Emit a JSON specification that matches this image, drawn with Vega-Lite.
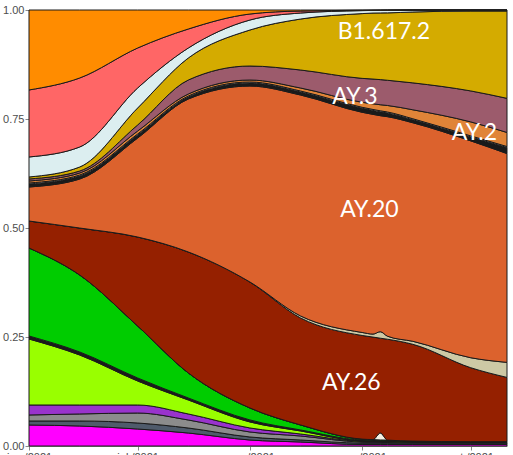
{
  "$schema": "https://vega.github.io/schema/vega-lite/v6.json",
  "width": 478,
  "height": 436,
  "autosize": {"type": "none"},
  "padding": {"left": 29, "top": 10, "right": 6, "bottom": 9},
  "background": "white",
  "config": {"view": {"stroke": null}},
  "datasets": {
    "shares": [
      {"date": "2021-06-01", "lineage": "L01", "share": 4.82},
      {"date": "2021-06-01", "lineage": "L02", "share": 0.92},
      {"date": "2021-06-01", "lineage": "L03", "share": 1.38},
      {"date": "2021-06-01", "lineage": "L04", "share": 2.29},
      {"date": "2021-06-01", "lineage": "L05", "share": 15.14},
      {"date": "2021-06-01", "lineage": "L06", "share": 0.69},
      {"date": "2021-06-01", "lineage": "L07", "share": 20.19},
      {"date": "2021-06-01", "lineage": "L08", "share": 0},
      {"date": "2021-06-01", "lineage": "AY.26", "share": 6.19},
      {"date": "2021-06-01", "lineage": "L09", "share": 0},
      {"date": "2021-06-01", "lineage": "AY.20", "share": 7.8},
      {"date": "2021-06-01", "lineage": "L11", "share": 0.69},
      {"date": "2021-06-01", "lineage": "L12", "share": 0.23},
      {"date": "2021-06-01", "lineage": "AY.2", "share": 0.46},
      {"date": "2021-06-01", "lineage": "AY.3", "share": 0.46},
      {"date": "2021-06-01", "lineage": "B1.617.2", "share": 0.46},
      {"date": "2021-06-01", "lineage": "L16", "share": 4.59},
      {"date": "2021-06-01", "lineage": "L17", "share": 15.37},
      {"date": "2021-06-01", "lineage": "L18", "share": 18.35},

      {"date": "2021-06-15", "lineage": "L01", "share": 4.59},
      {"date": "2021-06-15", "lineage": "L02", "share": 1.15},
      {"date": "2021-06-15", "lineage": "L03", "share": 1.61},
      {"date": "2021-06-15", "lineage": "L04", "share": 2.06},
      {"date": "2021-06-15", "lineage": "L05", "share": 11.47},
      {"date": "2021-06-15", "lineage": "L06", "share": 0.69},
      {"date": "2021-06-15", "lineage": "L07", "share": 17.66},
      {"date": "2021-06-15", "lineage": "L08", "share": 0},
      {"date": "2021-06-15", "lineage": "AY.26", "share": 10.78},
      {"date": "2021-06-15", "lineage": "L09", "share": 0},
      {"date": "2021-06-15", "lineage": "AY.20", "share": 11.24},
      {"date": "2021-06-15", "lineage": "L11", "share": 0.69},
      {"date": "2021-06-15", "lineage": "L12", "share": 0.23},
      {"date": "2021-06-15", "lineage": "AY.2", "share": 0.46},
      {"date": "2021-06-15", "lineage": "AY.3", "share": 0.46},
      {"date": "2021-06-15", "lineage": "B1.617.2", "share": 0.92},
      {"date": "2021-06-15", "lineage": "L16", "share": 4.59},
      {"date": "2021-06-15", "lineage": "L17", "share": 15.83},
      {"date": "2021-06-15", "lineage": "L18", "share": 15.6},

      {"date": "2021-07-01", "lineage": "L01", "share": 3.9},
      {"date": "2021-07-01", "lineage": "L02", "share": 1.38},
      {"date": "2021-07-01", "lineage": "L03", "share": 2.29},
      {"date": "2021-07-01", "lineage": "L04", "share": 1.84},
      {"date": "2021-07-01", "lineage": "L05", "share": 5.51},
      {"date": "2021-07-01", "lineage": "L06", "share": 0.69},
      {"date": "2021-07-01", "lineage": "L07", "share": 11.93},
      {"date": "2021-07-01", "lineage": "L08", "share": 0},
      {"date": "2021-07-01", "lineage": "AY.26", "share": 20.42},
      {"date": "2021-07-01", "lineage": "L09", "share": 0},
      {"date": "2021-07-01", "lineage": "AY.20", "share": 22.71},
      {"date": "2021-07-01", "lineage": "L11", "share": 0.69},
      {"date": "2021-07-01", "lineage": "L12", "share": 0.23},
      {"date": "2021-07-01", "lineage": "AY.2", "share": 0.69},
      {"date": "2021-07-01", "lineage": "AY.3", "share": 1.38},
      {"date": "2021-07-01", "lineage": "B1.617.2", "share": 3.9},
      {"date": "2021-07-01", "lineage": "L16", "share": 4.59},
      {"date": "2021-07-01", "lineage": "L17", "share": 9.18},
      {"date": "2021-07-01", "lineage": "L18", "share": 8.72},

      {"date": "2021-07-15", "lineage": "L01", "share": 2.98},
      {"date": "2021-07-15", "lineage": "L02", "share": 1.15},
      {"date": "2021-07-15", "lineage": "L03", "share": 1.84},
      {"date": "2021-07-15", "lineage": "L04", "share": 1.38},
      {"date": "2021-07-15", "lineage": "L05", "share": 3.21},
      {"date": "2021-07-15", "lineage": "L06", "share": 0.46},
      {"date": "2021-07-15", "lineage": "L07", "share": 5.74},
      {"date": "2021-07-15", "lineage": "L08", "share": 0},
      {"date": "2021-07-15", "lineage": "AY.26", "share": 27.76},
      {"date": "2021-07-15", "lineage": "L09", "share": 0},
      {"date": "2021-07-15", "lineage": "AY.20", "share": 35.1},
      {"date": "2021-07-15", "lineage": "L11", "share": 0.46},
      {"date": "2021-07-15", "lineage": "L12", "share": 0.23},
      {"date": "2021-07-15", "lineage": "AY.2", "share": 0.46},
      {"date": "2021-07-15", "lineage": "AY.3", "share": 3.21},
      {"date": "2021-07-15", "lineage": "B1.617.2", "share": 5.05},
      {"date": "2021-07-15", "lineage": "L16", "share": 2.29},
      {"date": "2021-07-15", "lineage": "L17", "share": 4.36},
      {"date": "2021-07-15", "lineage": "L18", "share": 4.36},

      {"date": "2021-08-01", "lineage": "L01", "share": 1.38},
      {"date": "2021-08-01", "lineage": "L02", "share": 0.69},
      {"date": "2021-08-01", "lineage": "L03", "share": 1.15},
      {"date": "2021-08-01", "lineage": "L04", "share": 0.92},
      {"date": "2021-08-01", "lineage": "L05", "share": 1.38},
      {"date": "2021-08-01", "lineage": "L06", "share": 0.46},
      {"date": "2021-08-01", "lineage": "L07", "share": 2.75},
      {"date": "2021-08-01", "lineage": "L08", "share": 0},
      {"date": "2021-08-01", "lineage": "AY.26", "share": 28.9},
      {"date": "2021-08-01", "lineage": "L09", "share": 0},
      {"date": "2021-08-01", "lineage": "AY.20", "share": 44.96},
      {"date": "2021-08-01", "lineage": "L11", "share": 0.69},
      {"date": "2021-08-01", "lineage": "L12", "share": 0.23},
      {"date": "2021-08-01", "lineage": "AY.2", "share": 0.46},
      {"date": "2021-08-01", "lineage": "AY.3", "share": 3.21},
      {"date": "2021-08-01", "lineage": "B1.617.2", "share": 8.26},
      {"date": "2021-08-01", "lineage": "L16", "share": 2.29},
      {"date": "2021-08-01", "lineage": "L17", "share": 1.38},
      {"date": "2021-08-01", "lineage": "L18", "share": 0.92},

      {"date": "2021-08-15", "lineage": "L01", "share": 0.92},
      {"date": "2021-08-15", "lineage": "L02", "share": 0.46},
      {"date": "2021-08-15", "lineage": "L03", "share": 0.92},
      {"date": "2021-08-15", "lineage": "L04", "share": 0.46},
      {"date": "2021-08-15", "lineage": "L05", "share": 0.69},
      {"date": "2021-08-15", "lineage": "L06", "share": 0.23},
      {"date": "2021-08-15", "lineage": "L07", "share": 1.15},
      {"date": "2021-08-15", "lineage": "L08", "share": 0},
      {"date": "2021-08-15", "lineage": "AY.26", "share": 24.55},
      {"date": "2021-08-15", "lineage": "L09", "share": 0.46},
      {"date": "2021-08-15", "lineage": "AY.20", "share": 50.7},
      {"date": "2021-08-15", "lineage": "L11", "share": 0.69},
      {"date": "2021-08-15", "lineage": "L12", "share": 0.23},
      {"date": "2021-08-15", "lineage": "AY.2", "share": 0.69},
      {"date": "2021-08-15", "lineage": "AY.3", "share": 4.13},
      {"date": "2021-08-15", "lineage": "B1.617.2", "share": 11.7},
      {"date": "2021-08-15", "lineage": "L16", "share": 1.38},
      {"date": "2021-08-15", "lineage": "L17", "share": 0.46},
      {"date": "2021-08-15", "lineage": "L18", "share": 0.23},

      {"date": "2021-09-01", "lineage": "L01", "share": 0.34},
      {"date": "2021-09-01", "lineage": "L02", "share": 0.34},
      {"date": "2021-09-01", "lineage": "L03", "share": 0.23},
      {"date": "2021-09-01", "lineage": "L04", "share": 0.11},
      {"date": "2021-09-01", "lineage": "L05", "share": 0.11},
      {"date": "2021-09-01", "lineage": "L06", "share": 0.23},
      {"date": "2021-09-01", "lineage": "L07", "share": 0.23},
      {"date": "2021-09-01", "lineage": "L08", "share": 0},
      {"date": "2021-09-01", "lineage": "AY.26", "share": 23.86},
      {"date": "2021-09-01", "lineage": "L09", "share": 0.69},
      {"date": "2021-09-01", "lineage": "AY.20", "share": 50.7},
      {"date": "2021-09-01", "lineage": "L11", "share": 0.92},
      {"date": "2021-09-01", "lineage": "L12", "share": 0.23},
      {"date": "2021-09-01", "lineage": "AY.2", "share": 1.15},
      {"date": "2021-09-01", "lineage": "AY.3", "share": 5.51},
      {"date": "2021-09-01", "lineage": "B1.617.2", "share": 14.91},
      {"date": "2021-09-01", "lineage": "L16", "share": 0.69},
      {"date": "2021-09-01", "lineage": "L17", "share": 0.07},
      {"date": "2021-09-01", "lineage": "L18", "share": 0.07},

      {"date": "2021-09-04", "lineage": "L01", "share": 0.34},
      {"date": "2021-09-04", "lineage": "L02", "share": 0.34},
      {"date": "2021-09-04", "lineage": "L03", "share": 0.2},
      {"date": "2021-09-04", "lineage": "L04", "share": 0.1},
      {"date": "2021-09-04", "lineage": "L05", "share": 0.1},
      {"date": "2021-09-04", "lineage": "L06", "share": 0.2},
      {"date": "2021-09-04", "lineage": "L07", "share": 0.2},
      {"date": "2021-09-04", "lineage": "L08", "share": 0},
      {"date": "2021-09-04", "lineage": "AY.26", "share": 23.6},
      {"date": "2021-09-04", "lineage": "L09", "share": 0.69},
      {"date": "2021-09-04", "lineage": "AY.20", "share": 50.6},
      {"date": "2021-09-04", "lineage": "L11", "share": 0.9},
      {"date": "2021-09-04", "lineage": "L12", "share": 0.23},
      {"date": "2021-09-04", "lineage": "AY.2", "share": 1.3},
      {"date": "2021-09-04", "lineage": "AY.3", "share": 5.7},
      {"date": "2021-09-04", "lineage": "B1.617.2", "share": 15.2},
      {"date": "2021-09-04", "lineage": "L16", "share": 0.6},
      {"date": "2021-09-04", "lineage": "L17", "share": 0.05},
      {"date": "2021-09-04", "lineage": "L18", "share": 0.05},

      {"date": "2021-09-06", "lineage": "L01", "share": 0.34},
      {"date": "2021-09-06", "lineage": "L02", "share": 0.34},
      {"date": "2021-09-06", "lineage": "L03", "share": 0.18},
      {"date": "2021-09-06", "lineage": "L04", "share": 0.1},
      {"date": "2021-09-06", "lineage": "L05", "share": 0.08},
      {"date": "2021-09-06", "lineage": "L06", "share": 0.18},
      {"date": "2021-09-06", "lineage": "L07", "share": 0.18},
      {"date": "2021-09-06", "lineage": "L08", "share": 1.6},
      {"date": "2021-09-06", "lineage": "AY.26", "share": 21.9},
      {"date": "2021-09-06", "lineage": "L09", "share": 1.5},
      {"date": "2021-09-06", "lineage": "AY.20", "share": 49.9},
      {"date": "2021-09-06", "lineage": "L11", "share": 0.9},
      {"date": "2021-09-06", "lineage": "L12", "share": 0.23},
      {"date": "2021-09-06", "lineage": "AY.2", "share": 1.4},
      {"date": "2021-09-06", "lineage": "AY.3", "share": 5.8},
      {"date": "2021-09-06", "lineage": "B1.617.2", "share": 15.4},
      {"date": "2021-09-06", "lineage": "L16", "share": 0.6},
      {"date": "2021-09-06", "lineage": "L17", "share": 0.04},
      {"date": "2021-09-06", "lineage": "L18", "share": 0.04},

      {"date": "2021-09-08", "lineage": "L01", "share": 0.34},
      {"date": "2021-09-08", "lineage": "L02", "share": 0.34},
      {"date": "2021-09-08", "lineage": "L03", "share": 0.17},
      {"date": "2021-09-08", "lineage": "L04", "share": 0.09},
      {"date": "2021-09-08", "lineage": "L05", "share": 0.08},
      {"date": "2021-09-08", "lineage": "L06", "share": 0.17},
      {"date": "2021-09-08", "lineage": "L07", "share": 0.17},
      {"date": "2021-09-08", "lineage": "L08", "share": 0},
      {"date": "2021-09-08", "lineage": "AY.26", "share": 23.2},
      {"date": "2021-09-08", "lineage": "L09", "share": 0.69},
      {"date": "2021-09-08", "lineage": "AY.20", "share": 50.5},
      {"date": "2021-09-08", "lineage": "L11", "share": 0.85},
      {"date": "2021-09-08", "lineage": "L12", "share": 0.23},
      {"date": "2021-09-08", "lineage": "AY.2", "share": 1.5},
      {"date": "2021-09-08", "lineage": "AY.3", "share": 5.8},
      {"date": "2021-09-08", "lineage": "B1.617.2", "share": 15.5},
      {"date": "2021-09-08", "lineage": "L16", "share": 0.6},
      {"date": "2021-09-08", "lineage": "L17", "share": 0.03},
      {"date": "2021-09-08", "lineage": "L18", "share": 0.03},

      {"date": "2021-09-15", "lineage": "L01", "share": 0.34},
      {"date": "2021-09-15", "lineage": "L02", "share": 0.34},
      {"date": "2021-09-15", "lineage": "L03", "share": 0.11},
      {"date": "2021-09-15", "lineage": "L04", "share": 0.07},
      {"date": "2021-09-15", "lineage": "L05", "share": 0.05},
      {"date": "2021-09-15", "lineage": "L06", "share": 0.11},
      {"date": "2021-09-15", "lineage": "L07", "share": 0.11},
      {"date": "2021-09-15", "lineage": "L08", "share": 0},
      {"date": "2021-09-15", "lineage": "AY.26", "share": 22.25},
      {"date": "2021-09-15", "lineage": "L09", "share": 0.69},
      {"date": "2021-09-15", "lineage": "AY.20", "share": 50.24},
      {"date": "2021-09-15", "lineage": "L11", "share": 0.69},
      {"date": "2021-09-15", "lineage": "L12", "share": 0.23},
      {"date": "2021-09-15", "lineage": "AY.2", "share": 2.06},
      {"date": "2021-09-15", "lineage": "AY.3", "share": 6.19},
      {"date": "2021-09-15", "lineage": "B1.617.2", "share": 16.29},
      {"date": "2021-09-15", "lineage": "L16", "share": 0.46},
      {"date": "2021-09-15", "lineage": "L17", "share": 0},
      {"date": "2021-09-15", "lineage": "L18", "share": 0},

      {"date": "2021-10-01", "lineage": "L01", "share": 0.34},
      {"date": "2021-10-01", "lineage": "L02", "share": 0.34},
      {"date": "2021-10-01", "lineage": "L03", "share": 0.07},
      {"date": "2021-10-01", "lineage": "L04", "share": 0.05},
      {"date": "2021-10-01", "lineage": "L05", "share": 0.05},
      {"date": "2021-10-01", "lineage": "L06", "share": 0.07},
      {"date": "2021-10-01", "lineage": "L07", "share": 0.07},
      {"date": "2021-10-01", "lineage": "L08", "share": 0},
      {"date": "2021-10-01", "lineage": "AY.26", "share": 16.98},
      {"date": "2021-10-01", "lineage": "L09", "share": 2.29},
      {"date": "2021-10-01", "lineage": "AY.20", "share": 49.78},
      {"date": "2021-10-01", "lineage": "L11", "share": 0.92},
      {"date": "2021-10-01", "lineage": "L12", "share": 0.23},
      {"date": "2021-10-01", "lineage": "AY.2", "share": 3.21},
      {"date": "2021-10-01", "lineage": "AY.3", "share": 7.11},
      {"date": "2021-10-01", "lineage": "B1.617.2", "share": 18.35},
      {"date": "2021-10-01", "lineage": "L16", "share": 0.23},
      {"date": "2021-10-01", "lineage": "L17", "share": 0},
      {"date": "2021-10-01", "lineage": "L18", "share": 0},

      {"date": "2021-10-11", "lineage": "L01", "share": 0.34},
      {"date": "2021-10-11", "lineage": "L02", "share": 0.34},
      {"date": "2021-10-11", "lineage": "L03", "share": 0.07},
      {"date": "2021-10-11", "lineage": "L04", "share": 0.05},
      {"date": "2021-10-11", "lineage": "L05", "share": 0.05},
      {"date": "2021-10-11", "lineage": "L06", "share": 0.07},
      {"date": "2021-10-11", "lineage": "L07", "share": 0.07},
      {"date": "2021-10-11", "lineage": "L08", "share": 0},
      {"date": "2021-10-11", "lineage": "AY.26", "share": 14.68},
      {"date": "2021-10-11", "lineage": "L09", "share": 3.44},
      {"date": "2021-10-11", "lineage": "AY.20", "share": 47.72},
      {"date": "2021-10-11", "lineage": "L11", "share": 1.38},
      {"date": "2021-10-11", "lineage": "L12", "share": 0.23},
      {"date": "2021-10-11", "lineage": "AY.2", "share": 3.21},
      {"date": "2021-10-11", "lineage": "AY.3", "share": 7.8},
      {"date": "2021-10-11", "lineage": "B1.617.2", "share": 19.96},
      {"date": "2021-10-11", "lineage": "L16", "share": 0.23},
      {"date": "2021-10-11", "lineage": "L17", "share": 0},
      {"date": "2021-10-11", "lineage": "L18", "share": 0}
    ],
    "labels": [
      {"date": "2021-09-07", "pos": 0.95, "label": "B1.617.2"},
      {"date": "2021-08-30", "pos": 0.8, "label": "AY.3"},
      {"date": "2021-10-02", "pos": 0.718, "label": "AY.2"},
      {"date": "2021-09-03", "pos": 0.541, "label": "AY.20"},
      {"date": "2021-08-29", "pos": 0.145, "label": "AY.26"}
    ]
  },
  "layer": [
    {
      "data": {"name": "shares"},
      "transform": [
        {"calculate": "indexof(['L01','L02','L03','L04','L05','L06','L07','L08','AY.26','L09','AY.20','L11','L12','AY.2','AY.3','B1.617.2','L16','L17','L18'], datum.lineage)", "as": "stackOrder"}
      ],
      "mark": {"type": "area", "interpolate": "monotone", "stroke": "#1a1a1a", "strokeWidth": 1, "fillOpacity": 1},
      "encoding": {
        "x": {
          "field": "date", "type": "temporal",
          "scale": {"domain": ["2021-06-01", "2021-10-11"]},
          "axis": {
            "title": null, "grid": false, "tickCount": {"interval": "month", "step": 1},
            "labelFlush": false, "labelOverlap": false,
            "labelExpr": "['ene','feb','mar','abr','may','jun','jul','ago','sep','oct','nov','dic'][month(datum.value)] + ' /' + year(datum.value)",
            "labelFont": "Liberation Sans", "labelFontSize": 11, "labelColor": "#4d4d4d",
            "tickSize": 4, "labelPadding": 1, "tickColor": "#888888", "domainColor": "#888888"
          }
        },
        "y": {
          "field": "share", "type": "quantitative", "stack": "normalize",
          "scale": {"domain": [0, 1], "nice": false},
          "axis": {
            "title": null, "grid": false, "values": [0, 0.25, 0.5, 0.75, 1],
            "labelExpr": "format(datum.value, '.2f')",
            "labelFont": "Liberation Sans", "labelFontSize": 11, "labelColor": "#4d4d4d",
            "tickSize": 4, "labelPadding": 1, "tickColor": "#888888", "domainColor": "#888888"
          }
        },
        "color": {
          "field": "lineage", "type": "nominal", "legend": null,
          "scale": {
            "domain": ["L01","L02","L03","L04","L05","L06","L07","L08","AY.26","L09","AY.20","L11","L12","AY.2","AY.3","B1.617.2","L16","L17","L18"],
            "range": ["#ff00ff","#4f5b6b","#8c8c8c","#9933cc","#99ff00","#1a1a1a","#00cc00","#f4f0e2","#952000","#cdc9a5","#dc622d","#1a1a1a","#ffffff","#e08438","#9c5b6c","#d4ab00","#dceef0","#ff6666","#ff8c00"]
          }
        },
        "order": {"field": "stackOrder", "type": "quantitative"}
      }
    },
    {
      "data": {"name": "labels"},
      "mark": {"type": "text", "font": "Lato", "fontSize": 23, "color": "white", "align": "center", "baseline": "middle"},
      "encoding": {
        "x": {"field": "date", "type": "temporal"},
        "y": {"field": "pos", "type": "quantitative"},
        "text": {"field": "label"}
      }
    }
  ]
}
